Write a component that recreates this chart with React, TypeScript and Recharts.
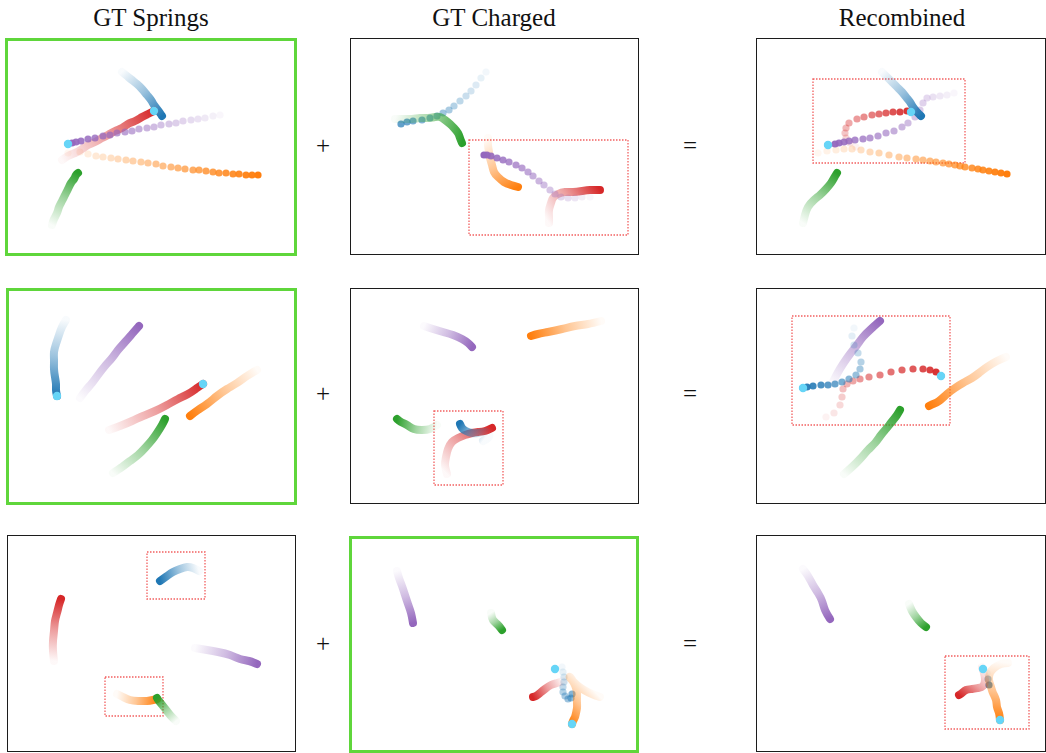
import { ScatterChart, Scatter, XAxis, YAxis, ReferenceArea, Curve } from "recharts";

type Pt = [number, number];
type Kind = "trail" | "dots";

const BLUE = "#1f77b4";
const ORANGE = "#ff7f0e";
const GREEN = "#2ca02c";
const RED = "#d62728";
const PURPLE = "#9467bd";
const CYAN = "#66d5f7";

const columnTitles = ["GT Springs", "GT Charged", "Recombined"];

// positions inside each panel (x right, y down), first point = oldest step
// row 1
const s1Blue: Pt[] = [[117, 34], [122, 38], [127, 42], [132, 46], [137, 51], [142, 57], [146, 62], [149, 67], [152, 71], [155, 75], [157, 78]];
const s1Red: Pt[] = [[57, 122], [63, 118], [70, 115], [77, 111], [83, 107], [90, 104], [97, 100], [103, 97], [110, 93], [117, 90], [123, 86], [130, 83], [137, 79], [143, 76], [149, 73]];
const s1Purple: Pt[] = [[215, 77], [208, 78], [200, 80], [193, 81], [186, 82], [178, 83], [171, 85], [164, 86], [156, 87], [149, 89], [142, 90], [134, 91], [127, 93], [120, 94], [112, 95], [105, 97], [98, 98], [90, 100], [83, 101], [76, 103], [71, 104], [67, 105], [63, 106]];
const s1Orange: Pt[] = [[63, 115], [75, 114], [83, 116], [91, 118], [98, 119], [106, 120], [113, 121], [121, 122], [128, 123], [136, 124], [143, 125], [151, 126], [158, 128], [166, 129], [173, 130], [180, 131], [188, 132], [194, 132], [201, 133], [208, 134], [214, 135], [221, 135], [228, 136], [234, 136], [241, 137], [247, 137], [253, 137]];
const s1Green: Pt[] = [[47, 187], [49, 181], [52, 175], [54, 169], [57, 163], [60, 157], [63, 151], [66, 145], [69, 141], [71, 137], [73, 135]];
const s1Cyan: Pt[] = [[149, 73], [63, 106]];

const c1Blue: Pt[] = [[136, 34], [131, 40], [126, 47], [121, 53], [116, 58], [110, 63], [104, 68], [99, 72], [93, 75], [87, 78], [80, 80], [72, 82], [63, 83], [57, 84], [51, 86]];
const c1Green: Pt[] = [[45, 81], [53, 81], [62, 81], [70, 80], [78, 80], [85, 79], [90, 79], [95, 82], [100, 86], [104, 90], [108, 95], [110, 100], [112, 105]];
const c1Orange: Pt[] = [[138, 100], [138, 107], [139, 114], [140, 120], [142, 127], [144, 134], [148, 139], [154, 144], [161, 147], [168, 149]];
const c1Purple: Pt[] = [[240, 159], [232, 159], [225, 160], [218, 160], [211, 159], [205, 156], [200, 152], [194, 147], [189, 143], [183, 138], [178, 134], [172, 130], [166, 127], [159, 124], [153, 122], [147, 120], [141, 118], [137, 117], [134, 117]];
const c1Red: Pt[] = [[199, 185], [199, 179], [199, 172], [201, 165], [203, 160], [208, 156], [215, 154], [223, 154], [232, 153], [240, 152], [246, 152], [250, 152]];
const c1Box = [119, 102, 278, 197];

const r1Blue: Pt[] = [[126, 34], [131, 39], [136, 44], [141, 49], [146, 54], [150, 59], [154, 64], [157, 69], [161, 74], [165, 78]];
const r1Red: Pt[] = [[100, 109], [94, 105], [90, 100], [89, 95], [90, 90], [93, 85], [101, 81], [108, 79], [116, 77], [123, 76], [130, 75], [137, 74], [144, 74], [151, 73], [155, 74]];
const r1Purple: Pt[] = [[198, 55], [191, 57], [184, 58], [177, 59], [171, 60], [167, 65], [164, 72], [159, 79], [152, 85], [146, 89], [138, 93], [130, 95], [122, 98], [114, 100], [107, 101], [99, 102], [93, 103], [88, 104], [83, 105], [79, 106], [72, 107]];
const r1Orange: Pt[] = [[62, 115], [71, 113], [80, 112], [88, 111], [96, 111], [105, 112], [114, 114], [123, 115], [133, 117], [143, 119], [151, 120], [160, 121], [167, 122], [174, 123], [180, 124], [187, 125], [193, 126], [199, 127], [204, 128], [209, 129], [216, 130], [222, 131], [227, 132], [233, 133], [239, 134], [245, 135], [251, 136]];
const r1Green: Pt[] = [[47, 185], [49, 177], [52, 169], [58, 162], [64, 157], [70, 151], [75, 145], [78, 140], [81, 135]];
const r1Cyan: Pt[] = [[155, 74], [72, 107]];
const r1Box = [57, 41, 209, 125];

// row 2
const s2Blue: Pt[] = [[60, 32], [56, 39], [53, 47], [50, 56], [48, 64], [48, 72], [48, 81], [49, 89], [50, 96], [50, 102], [51, 108]];
const s2Purple: Pt[] = [[74, 110], [80, 102], [86, 95], [92, 87], [99, 78], [106, 70], [112, 62], [119, 54], [126, 46], [133, 38]];
const s2Red: Pt[] = [[103, 142], [114, 138], [126, 133], [137, 128], [149, 123], [161, 117], [172, 111], [182, 106], [191, 100], [197, 96]];
const s2Orange: Pt[] = [[251, 82], [241, 88], [231, 95], [221, 101], [211, 108], [201, 116], [192, 122], [184, 128]];
const s2Green: Pt[] = [[107, 185], [116, 179], [124, 173], [132, 167], [139, 160], [146, 152], [151, 145], [156, 137], [159, 131]];
const s2Cyan: Pt[] = [[197, 96], [51, 108]];

const c2Purple: Pt[] = [[74, 38], [83, 41], [93, 44], [103, 47], [112, 51], [118, 55], [122, 59]];
const c2Orange: Pt[] = [[251, 33], [238, 36], [225, 38], [212, 41], [198, 44], [188, 46], [181, 48]];
const c2Green: Pt[] = [[87, 137], [80, 141], [72, 142], [64, 141], [57, 137], [51, 134], [47, 131]];
const c2Red: Pt[] = [[97, 186], [95, 177], [96, 169], [98, 161], [102, 154], [108, 150], [115, 147], [122, 145], [128, 144], [135, 143], [142, 140]];
const c2Blue: Pt[] = [[133, 153], [138, 150], [139, 146], [135, 144], [128, 145], [122, 145], [116, 143], [112, 140], [110, 136]];
const c2Box = [84, 123, 153, 197];

const r2Purple: Pt[] = [[76, 96], [81, 86], [87, 76], [94, 66], [101, 57], [107, 49], [115, 41], [124, 33]];
const r2Blue: Pt[] = [[98, 40], [96, 48], [98, 57], [102, 65], [105, 74], [104, 81], [100, 87], [93, 91], [86, 94], [79, 96], [72, 97], [65, 97], [57, 98], [51, 99], [47, 100]];
const r2Red: Pt[] = [[70, 129], [78, 125], [84, 117], [86, 109], [87, 101], [91, 96], [97, 93], [104, 91], [113, 89], [124, 87], [135, 84], [146, 82], [157, 81], [167, 81], [174, 82], [180, 84], [185, 88]];
const r2Orange: Pt[] = [[250, 69], [241, 73], [231, 79], [223, 85], [216, 90], [207, 95], [199, 100], [191, 106], [183, 113], [177, 116], [173, 118]];
const r2Green: Pt[] = [[88, 186], [96, 179], [104, 171], [112, 162], [119, 155], [125, 147], [130, 141], [134, 136], [138, 131], [141, 127], [144, 122]];
const r2Cyan: Pt[] = [[47, 100], [185, 88]];
const r2Box = [36, 28, 194, 137];

// row 3
const s3Blue: Pt[] = [[192, 36], [186, 33], [180, 32], [173, 34], [166, 37], [160, 41], [153, 46]];
const s3Red: Pt[] = [[47, 126], [46, 116], [46, 106], [47, 96], [48, 86], [50, 78], [52, 70], [54, 64]];
const s3Purple: Pt[] = [[188, 113], [200, 115], [211, 117], [223, 120], [233, 124], [242, 126], [250, 129]];
const s3Orange: Pt[] = [[110, 159], [116, 162], [123, 165], [131, 166], [140, 166], [146, 165], [150, 164]];
const s3Green: Pt[] = [[169, 186], [164, 181], [160, 176], [156, 171], [152, 166], [150, 163]];
const s3BoxA = [140, 17, 198, 64];
const s3BoxB = [98, 142, 156, 181];

const c3Purple: Pt[] = [[48, 35], [50, 42], [53, 50], [56, 59], [59, 68], [62, 77], [64, 87]];
const c3Green: Pt[] = [[142, 77], [144, 84], [149, 89], [153, 94]];
const c3Red: Pt[] = [[214, 145], [208, 147], [202, 149], [196, 153], [191, 157], [187, 160], [184, 161]];
const c3Blue: Pt[] = [[213, 131], [214, 136], [215, 141], [215, 146], [214, 151], [214, 156], [216, 160], [219, 163], [222, 162], [223, 158]];
const c3Orange: Pt[] = [[251, 161], [243, 158], [235, 154], [228, 149], [222, 143], [221, 141], [225, 147], [227, 152], [228, 157], [228, 162], [228, 167], [228, 172], [227, 177], [226, 181], [224, 185], [223, 188]];
const c3Cyan: Pt[] = [[206, 133], [223, 188]];

const r3Purple: Pt[] = [[47, 34], [52, 41], [57, 50], [62, 58], [66, 66], [69, 75], [74, 84]];
const r3Green: Pt[] = [[153, 69], [156, 76], [160, 82], [165, 88], [170, 92]];
const r3Red: Pt[] = [[226, 132], [228, 138], [229, 145], [227, 151], [222, 153], [216, 154], [210, 155], [206, 158], [203, 160]];
const r3Blue: Pt[] = [[231, 138], [232, 144], [233, 150]];
const r3Orange: Pt[] = [[252, 128], [245, 129], [238, 133], [234, 138], [233, 145], [235, 152], [237, 158], [240, 165], [241, 172], [243, 178], [244, 185]];
const r3Cyan: Pt[] = [[227, 134], [244, 185]];
const r3Box = [189, 121, 273, 194];

type Series = { pts: Pt[]; color: string; kind: Kind; peak?: number };
type PanelDef = {
  id: string;
  left: number;
  top: number;
  width: number;
  height: number;
  green: boolean;
  series: Series[];
  cyan: Pt[];
  boxes: number[][];
};

const panels: PanelDef[] = [
  {
    id: "s1", left: 5, top: 38, width: 292, height: 218, green: true, boxes: [], cyan: s1Cyan,
    series: [
      { pts: s1Orange, color: ORANGE, kind: "dots" },
      { pts: s1Green, color: GREEN, kind: "trail" },
      { pts: s1Blue, color: BLUE, kind: "trail" },
      { pts: s1Red, color: RED, kind: "trail" },
      { pts: s1Purple, color: PURPLE, kind: "dots" },
    ],
  },
  {
    id: "c1", left: 350, top: 38, width: 289, height: 217, green: false, boxes: [c1Box], cyan: [],
    series: [
      { pts: c1Blue, color: BLUE, kind: "dots", peak: 0.7 },
      { pts: c1Green, color: GREEN, kind: "trail" },
      { pts: c1Orange, color: ORANGE, kind: "trail" },
      { pts: c1Red, color: RED, kind: "trail" },
      { pts: c1Purple, color: PURPLE, kind: "dots" },
    ],
  },
  {
    id: "r1", left: 756, top: 38, width: 290, height: 217, green: false, boxes: [r1Box], cyan: r1Cyan,
    series: [
      { pts: r1Orange, color: ORANGE, kind: "dots" },
      { pts: r1Green, color: GREEN, kind: "trail" },
      { pts: r1Red, color: RED, kind: "dots" },
      { pts: r1Purple, color: PURPLE, kind: "dots" },
      { pts: r1Blue, color: BLUE, kind: "trail" },
    ],
  },
  {
    id: "s2", left: 6, top: 288, width: 291, height: 217, green: true, boxes: [], cyan: s2Cyan,
    series: [
      { pts: s2Blue, color: BLUE, kind: "trail" },
      { pts: s2Purple, color: PURPLE, kind: "trail" },
      { pts: s2Red, color: RED, kind: "trail" },
      { pts: s2Orange, color: ORANGE, kind: "trail" },
      { pts: s2Green, color: GREEN, kind: "trail" },
    ],
  },
  {
    id: "c2", left: 350, top: 288, width: 289, height: 216, green: false, boxes: [c2Box], cyan: [],
    series: [
      { pts: c2Purple, color: PURPLE, kind: "trail" },
      { pts: c2Orange, color: ORANGE, kind: "trail" },
      { pts: c2Green, color: GREEN, kind: "trail" },
      { pts: c2Red, color: RED, kind: "trail" },
      { pts: c2Blue, color: BLUE, kind: "trail" },
    ],
  },
  {
    id: "r2", left: 756, top: 288, width: 290, height: 216, green: false, boxes: [r2Box], cyan: r2Cyan,
    series: [
      { pts: r2Purple, color: PURPLE, kind: "trail" },
      { pts: r2Red, color: RED, kind: "dots" },
      { pts: r2Blue, color: BLUE, kind: "dots" },
      { pts: r2Orange, color: ORANGE, kind: "trail" },
      { pts: r2Green, color: GREEN, kind: "trail" },
    ],
  },
  {
    id: "s3", left: 7, top: 535, width: 289, height: 217, green: false, boxes: [s3BoxA, s3BoxB], cyan: [],
    series: [
      { pts: s3Blue, color: BLUE, kind: "trail" },
      { pts: s3Red, color: RED, kind: "trail" },
      { pts: s3Purple, color: PURPLE, kind: "trail" },
      { pts: s3Orange, color: ORANGE, kind: "trail" },
      { pts: s3Green, color: GREEN, kind: "trail" },
    ],
  },
  {
    id: "c3", left: 349, top: 536, width: 290, height: 217, green: true, boxes: [], cyan: c3Cyan,
    series: [
      { pts: c3Purple, color: PURPLE, kind: "trail" },
      { pts: c3Green, color: GREEN, kind: "trail" },
      { pts: c3Blue, color: BLUE, kind: "dots", peak: 0.55 },
      { pts: c3Red, color: RED, kind: "trail" },
      { pts: c3Orange, color: ORANGE, kind: "trail" },
    ],
  },
  {
    id: "r3", left: 756, top: 535, width: 290, height: 217, green: false, boxes: [r3Box], cyan: r3Cyan,
    series: [
      { pts: r3Purple, color: PURPLE, kind: "trail" },
      { pts: r3Green, color: GREEN, kind: "trail" },
      { pts: r3Blue, color: BLUE, kind: "dots", peak: 0.8 },
      { pts: r3Red, color: RED, kind: "trail" },
      { pts: r3Orange, color: ORANGE, kind: "trail" },
    ],
  },
];

const toRows = (pts: Pt[]) => pts.map(([x, y], i) => ({ x, y, i, n: pts.length }));

// thick stroke that fades in from the oldest point to the newest
const trailLine = (color: string, gid: string, peak: number) => (props: any) => {
  const pts = props.points || [];
  if (pts.length < 2) return <g />;
  const a = pts[0];
  const b = pts[pts.length - 1];
  return (
    <g>
      <defs>
        <linearGradient id={gid} gradientUnits="userSpaceOnUse" x1={a.x} y1={a.y} x2={b.x} y2={b.y}>
          <stop offset="0" stopColor={color} stopOpacity={0.03} />
          <stop offset="0.5" stopColor={color} stopOpacity={0.45 * peak} />
          <stop offset="1" stopColor={color} stopOpacity={peak} />
        </linearGradient>
      </defs>
      <Curve
        points={pts}
        type="natural"
        fill="none"
        stroke={`url(#${gid})`}
        strokeWidth={8}
        strokeLinecap="round"
        strokeLinejoin="round"
      />
    </g>
  );
};

const fadeDot = (color: string, peak: number) => (p: any) => {
  const { i, n } = p.payload;
  const a = 0.06 + ((peak - 0.06) * i) / Math.max(1, n - 1);
  return <circle cx={p.cx} cy={p.cy} r={3.6} fill={color} fillOpacity={a} />;
};

const emptyShape = () => <g />;
const cyanDot = (p: any) => <circle cx={p.cx} cy={p.cy} r={4.2} fill={CYAN} />;

function Panel({ def }: { def: PanelDef }) {
  const { id, left, top, width, height, green, series, cyan, boxes } = def;
  return (
    <div style={{ position: "absolute", left, top, width, height }}>
      <ScatterChart width={width} height={height} margin={{ top: 0, right: 0, bottom: 0, left: 0 }}>
        <XAxis type="number" dataKey="x" domain={[0, width]} allowDataOverflow hide />
        <YAxis type="number" dataKey="y" domain={[0, height]} allowDataOverflow reversed hide />
        {boxes.map((b, k) => (
          <ReferenceArea
            key={k}
            x1={b[0]}
            y1={b[1]}
            x2={b[2]}
            y2={b[3]}
            fill="none"
            fillOpacity={0}
            stroke="#f26060"
            strokeWidth={1.3}
            strokeDasharray="1.5 1.5"
            ifOverflow="visible"
          />
        ))}
        {series.map((s, k) => {
          const peak = s.peak ?? 1;
          return (
            <Scatter
              key={k}
              data={toRows(s.pts)}
              isAnimationActive={false}
              line={s.kind === "trail" ? trailLine(s.color, `${id}-g${k}`, peak) : false}
              shape={s.kind === "trail" ? emptyShape : fadeDot(s.color, peak)}
            />
          );
        })}
        {cyan.length > 0 && <Scatter data={toRows(cyan)} isAnimationActive={false} shape={cyanDot} />}
      </ScatterChart>
      <div
        style={{
          position: "absolute",
          inset: 0,
          boxSizing: "border-box",
          border: green ? "3px solid #5fd63b" : "1.6px solid #1c1c1c",
          pointerEvents: "none",
        }}
      />
    </div>
  );
}

const titleX = [151, 494, 902];
const rowMid = [147, 395, 645];

export default function App() {
  return (
    <div
      style={{
        position: "absolute",
        left: 0,
        top: 0,
        width: 1046,
        height: 753,
        background: "#fff",
        overflow: "hidden",
      }}
    >
      <svg width={1046} height={753} style={{ position: "absolute", left: 0, top: 0 }}>
        <g fontFamily="'Liberation Serif', 'Times New Roman', serif" fontSize={25} fill="#111" textAnchor="middle">
          {columnTitles.map((t, k) => (
            <text key={t} x={titleX[k]} y={26}>
              {t}
            </text>
          ))}
          {rowMid.map((y) => (
            <g key={y}>
              <text x={323} y={y + 7}>+</text>
              <text x={690} y={y + 7}>=</text>
            </g>
          ))}
        </g>
      </svg>
      {panels.map((p) => (
        <Panel key={p.id} def={p} />
      ))}
    </div>
  );
}
